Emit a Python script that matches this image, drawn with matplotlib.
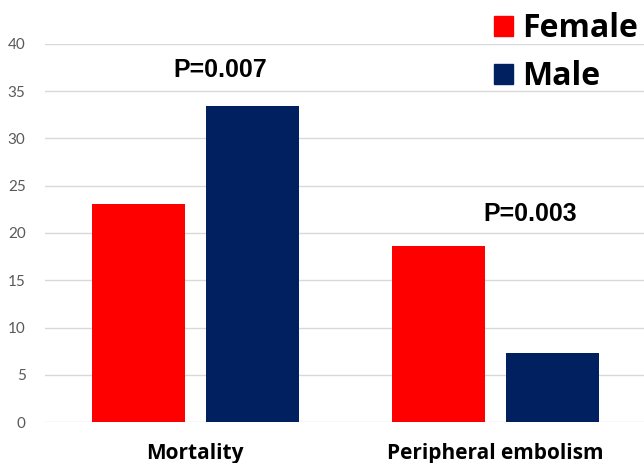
import matplotlib
matplotlib.use("Agg")
import matplotlib.pyplot as plt
from matplotlib.patches import Patch
import numpy as np

categories = ["Mortality", "Peripheral embolism"]
female = [23.1, 18.6]
male = [33.4, 7.3]
p_values = ["P=0.007", "P=0.003"]
p_heights = [37.3, 22.0]

red = "#ff0000"
navy = "#002060"

plt.rcParams['font.family'] = ['Lato', 'DejaVu Sans']

fig = plt.figure(figsize=(6.44, 4.63), dpi=100)
ax = fig.add_axes([45 / 644, 41 / 463, 600 / 644, 378 / 463])

x = np.arange(len(categories))
w = 0.31
ax.bar(x - 0.19, female, width=w, color=red, zorder=3)
ax.bar(x + 0.19, male, width=w, color=navy, zorder=3)

# p-value labels sit a bit right of the group centre
p_shift = [0.083, 0.117]
for i in range(len(categories)):
    ax.text(x[i] + p_shift[i], p_heights[i], p_values[i], ha="center", va="center",
            fontsize=18, fontweight="bold", color="black",
            family=["Liberation Sans", "DejaVu Sans"])

ax.set_xlim(-0.5, 1.5)
ax.set_ylim(0, 40)
ax.set_yticks(range(0, 41, 5))
ax.set_xticks(x)
ax.set_xticklabels(categories, fontsize=15, fontweight="bold",
                   family=["Open Sans", "DejaVu Sans"])
ax.tick_params(axis="y", labelsize=11, labelcolor="#595959", length=0, pad=14)
ax.tick_params(axis="x", length=0, pad=15)
ax.grid(axis="y", color="#d9d9d9", linewidth=1, zorder=0)
for s in ax.spines.values():
    s.set_visible(False)

handles = [Patch(color=red, label="Female"), Patch(color=navy, label="Male")]
fig.legend(handles=handles, loc="upper right", bbox_to_anchor=(1.036, 1.036),
           frameon=False, prop={"size": 23, "weight": "bold", "family": "Open Sans"},
           handlelength=0.6, handleheight=0.6, handletextpad=0.3,
           labelspacing=0.47)

fig.savefig("out.png", dpi=100)
